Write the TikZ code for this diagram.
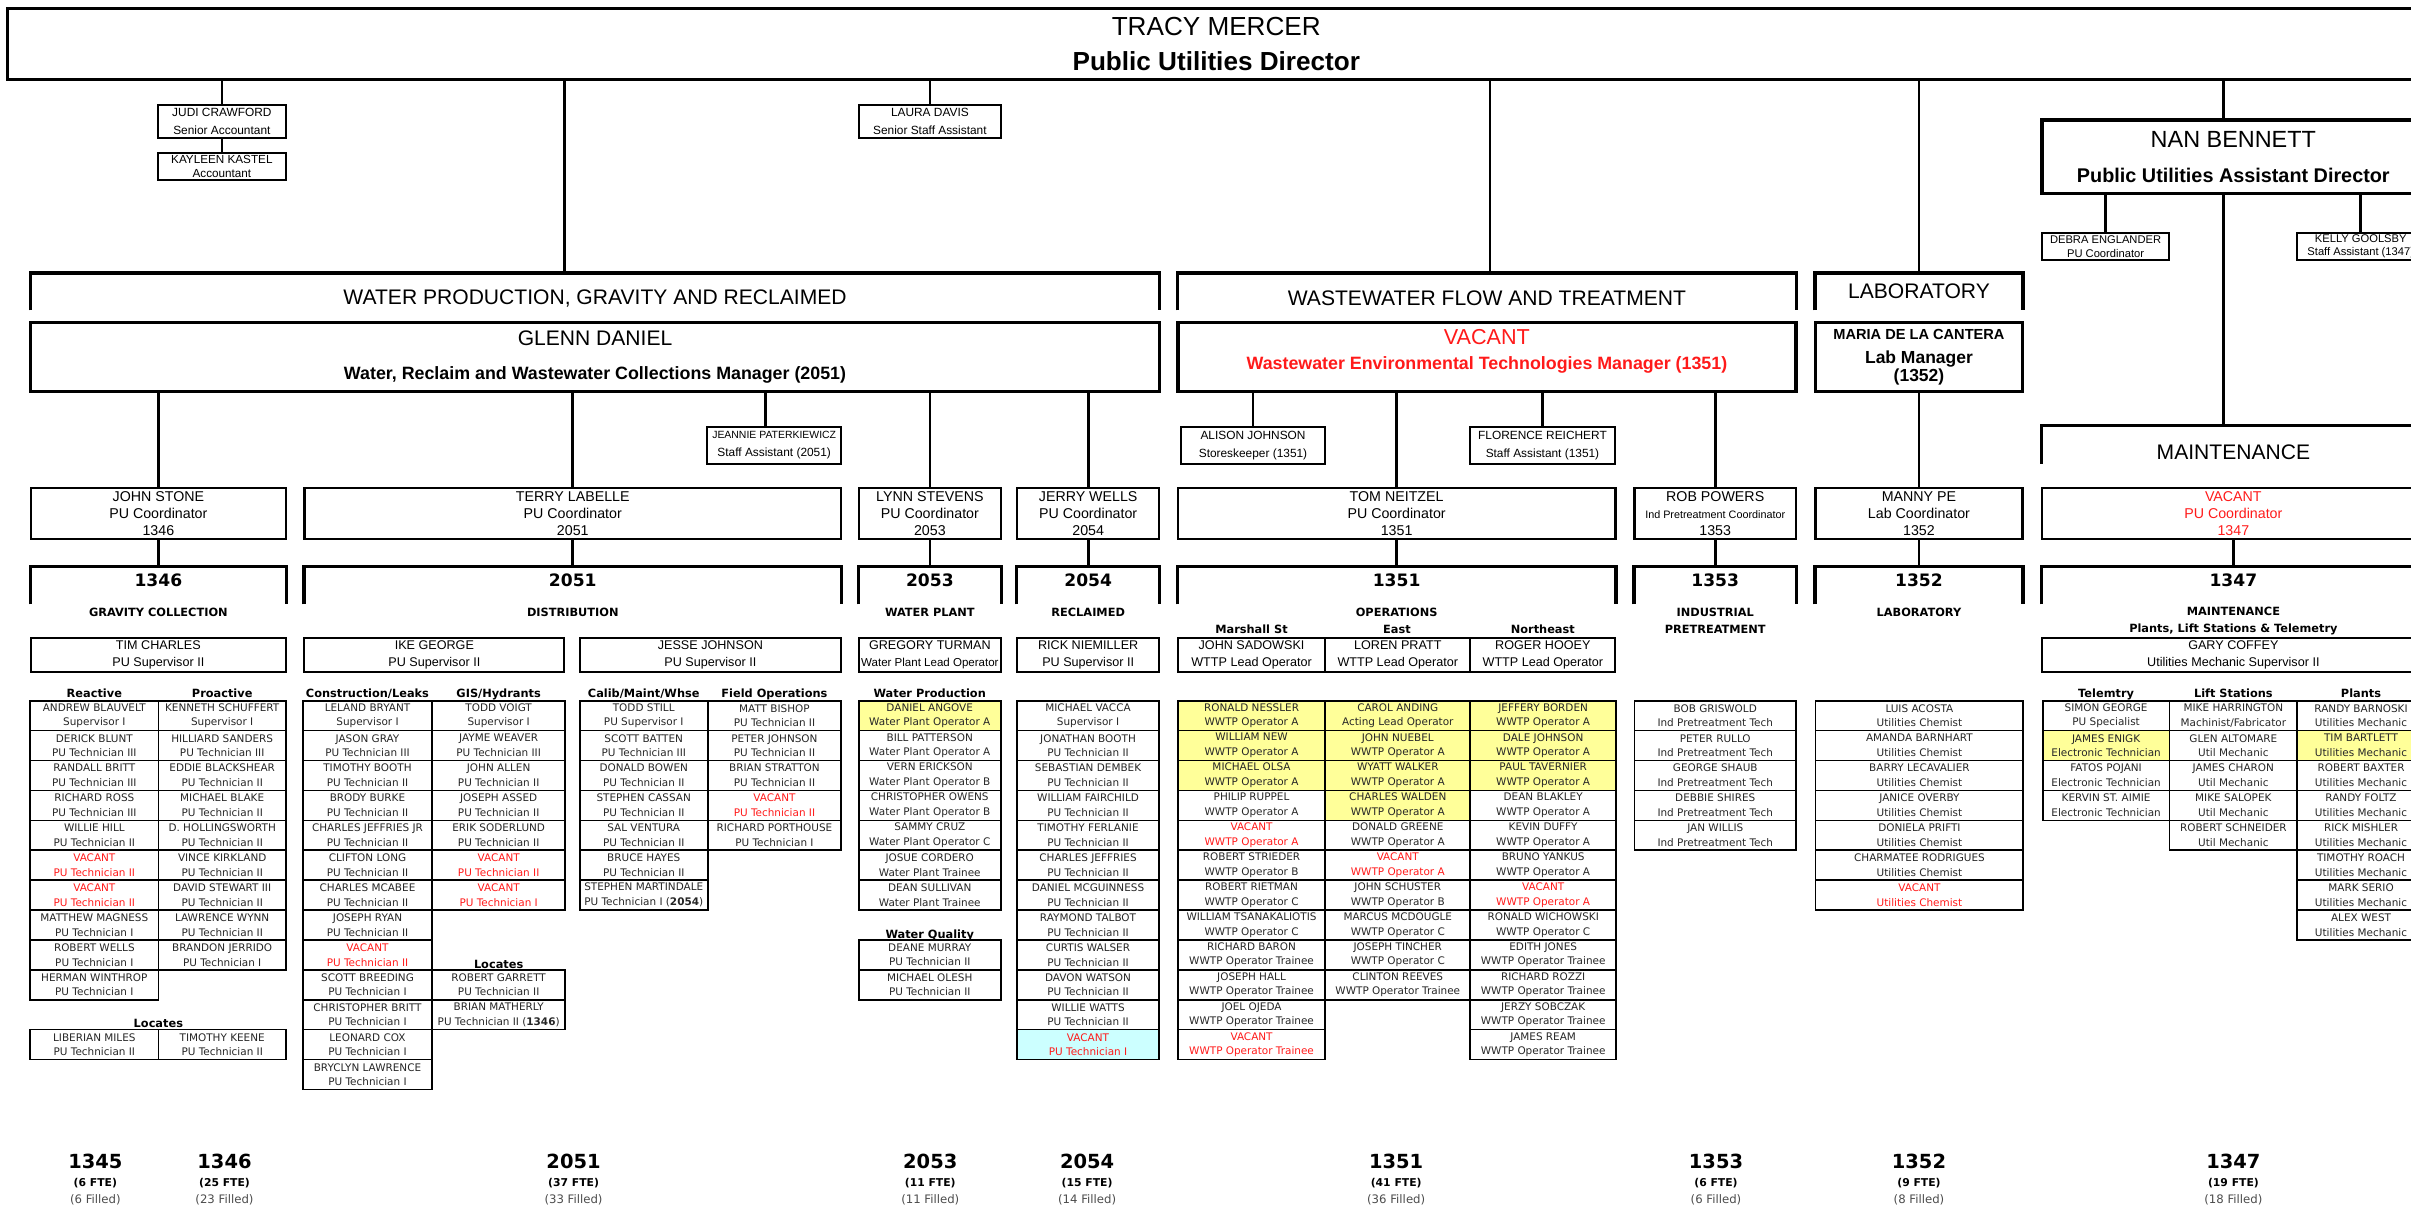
\documentclass[tikz,border=0pt]{standalone}
\usepackage{fontspec}
\setmainfont{Liberation Sans}
\newfontfamily\tahoma{DejaVu Sans}

\definecolor{vacred}{HTML}{FF1A1A}
\definecolor{hlyellow}{HTML}{FFFF99}
\definecolor{hlcyan}{HTML}{CCFFFF}

\tikzset{
  spot/.style args={#1/#2/#3/#4}{at={({(#1+#3)/2},{(#2+#4)/2})}, minimum width={(#3-#1)*0.3mm}, minimum height={(#4-#2)*0.3mm}},
  conn/.style={line width=1.5pt},
  brk/.style={line width=1.9pt},
  bigbox/.style={draw, line width=1.9pt, inner sep=0pt, align=center},
  smallbox/.style={draw, line width=1.1pt, inner sep=0pt, align=center, font=\fontsize{6.6}{9.8}\selectfont},
  coordbox/.style={draw, line width=1.2pt, inner sep=0pt, align=center, font=\fontsize{7.9}{9.4}\selectfont},
  supbox/.style={draw, line width=1.1pt, inner sep=0pt, align=center, font=\fontsize{7}{9.5}\selectfont},
  divtext/.style={font=\fontsize{11.7}{14}\selectfont, inner sep=0pt},
  secnum/.style={font=\tahoma\bfseries\fontsize{9.5}{11}\selectfont, inner sep=0pt},
  secname/.style={font=\tahoma\bfseries\fontsize{6.3}{9.2}\selectfont, inner sep=0pt, align=center},
  collabel/.style={font=\tahoma\bfseries\fontsize{6.3}{7}\selectfont, inner sep=0pt, anchor=base},
  cell/.style={draw, line width=0.9pt, inner sep=0pt, align=center, text=black!85, font=\tahoma\fontsize{5.8}{8.1}\selectfont},
  ok/.style={},
  vac/.style={text=vacred},
  hl/.style={fill=hlyellow},
  hlvac/.style={fill=hlcyan, text=vacred},
  totnum/.style={font=\tahoma\bfseries\fontsize{10.8}{12}\selectfont, inner sep=0pt},
  totfte/.style={font=\tahoma\bfseries\fontsize{6}{7}\selectfont, inner sep=0pt},
  totfil/.style={font=\tahoma\fontsize{6.5}{7.5}\selectfont, text=black!70, inner sep=0pt},
}

\newcommand{\staffcol}[5]{%
  \foreach \nm/\ti/\st [count=\r from #4] in {#5}{%
    \node[cell, \st, minimum width=#3*0.3mm, minimum height=19.45*0.3mm] (#1\r) at ({#2+#3/2},{465.425+19.45*\r}) {\nm\\\ti};
  }%
}

\begin{document}
\begin{tikzpicture}[x=0.3mm, y=-0.3mm]
\useasboundingbox (0,0) rectangle (1568,785);
\clip (0,0) rectangle (1568,785);

\node[bigbox, font=\fontsize{14.5}{19.4}\selectfont, spot=5/5.6/1577/51.7] (dir) {TRACY MERCER\\\textbf{Public Utilities Director}};

\node[smallbox, spot=102.9/68.3/185.7/90] (jc) {JUDI CRAWFORD\\Senior Accountant};
\node[smallbox, font=\fontsize{6.5}{8.1}\selectfont, spot=102.9/99.3/185.7/117] (kk) {KAYLEEN KASTEL\\Accountant};
\node[smallbox, spot=558.5/68.3/651/90] (ld) {LAURA DAVIS\\Senior Staff Assistant};

\node[bigbox, font=\fontsize{13}{19.4}\selectfont, spot=1327.9/78/1577/125.7] (nb) {NAN BENNETT\\{\fontsize{11}{19.4}\selectfont\bfseries Public Utilities Assistant Director}};
\node[smallbox, font=\fontsize{6.2}{7.4}\selectfont, spot=1327.9/151.7/1410.8/169] (de) {DEBRA ENGLANDER\\PU Coordinator};
\node[smallbox, font=\fontsize{6.2}{7.4}\selectfont, spot=1493.6/151.7/1577/169] (kg) {KELLY GOOLSBY\\Staff Assistant (1347)};

\node[inner sep=0pt, spot=20/177.8/754/201.6] (wpg) {};
\node[inner sep=0pt, spot=766/177.8/1168/201.6] (wwf) {};
\node[inner sep=0pt, spot=1180.7/177.8/1315.3/201.6] (labh) {};
\node[inner sep=0pt, spot=1327.9/277/1577/301.3] (mnt) {};
\foreach \h in {wpg, wwf, labh, mnt}
  \draw[brk] (\h.south west) |- (\h.north east) -- (\h.south east);
\node[divtext] (wpgt) at (387,194) {WATER PRODUCTION, GRAVITY AND RECLAIMED};
\node[divtext] (wwft) at (967,194) {WASTEWATER FLOW AND TREATMENT};
\node[divtext] (labt) at (1248,189.7) {LABORATORY};
\node[divtext] (mntt) at (1452.5,294.2) {MAINTENANCE};

\node[bigbox, font=\fontsize{11.7}{18.5}\selectfont, spot=20/209.9/754/254.7] (gd) {GLENN DANIEL\\{\fontsize{9.9}{18.5}\selectfont\bfseries Water, Reclaim and Wastewater Collections Manager (2051)}};
\node[bigbox, text=vacred, font=\fontsize{12}{13.8}\selectfont, spot=766/209.9/1168/254.7] (wm) {VACANT\\{\fontsize{9.9}{13.8}\selectfont\bfseries Wastewater Environmental Technologies Manager (1351)}\\[-5pt]\mbox{}};
\node[bigbox, font=\fontsize{9.7}{10.1}\selectfont\bfseries, spot=1180.7/209.9/1315.3/254.7] (mc) {{\fontsize{8.1}{10.1}\selectfont MARIA DE LA CANTERA}\\[3.3pt]Lab Manager\\(1352)};

\node[smallbox, spot=460/277.5/547/301.8] (jp) {{\fontsize{5.8}{9.8}\selectfont JEANNIE PATERKIEWICZ}\\Staff Assistant (2051)};
\node[smallbox, spot=768/277.5/861.8/301.8] (aj) {ALISON JOHNSON\\Storeskeeper (1351)};
\node[smallbox, spot=955.7/277.5/1050.6/301.8] (fr) {FLORENCE REICHERT\\Staff Assistant (1351)};

\node[coordbox, spot=20/317.2/186/350.8] (js) {JOHN STONE\\PU Coordinator\\1346};
\node[coordbox, spot=198/317.2/547/350.8] (tl) {TERRY LABELLE\\PU Coordinator\\2051};
\node[coordbox, spot=558.5/317.2/651/350.8] (ls) {LYNN STEVENS\\PU Coordinator\\2053};
\node[coordbox, spot=661.4/317.2/754/350.8] (jw) {JERRY WELLS\\PU Coordinator\\2054};
\node[coordbox, spot=766/317.2/1050.6/350.8] (tn) {TOM NEITZEL\\PU Coordinator\\1351};
\node[coordbox, spot=1063/317.2/1168/350.8] (rp) {ROB POWERS\\{\fontsize{6}{9.4}\selectfont Ind Pretreatment Coordinator}\\1353};
\node[coordbox, spot=1180.7/317.2/1315.3/350.8] (mp) {MANNY PE\\Lab Coordinator\\1352};
\node[coordbox, text=vacred, spot=1327.9/317.2/1577/350.8] (vc) {VACANT\\PU Coordinator\\1347};

\draw[conn] (jc.north |- dir.south) -- (jc.north);
\draw[conn] (jc.south) -- (kk.north);
\draw[conn] (367,0 |- dir.south) -- (367,0 |- wpg.north);
\draw[conn] (ld.north |- dir.south) -- (ld.north);
\draw[conn] (969,0 |- dir.south) -- (969,0 |- wwf.north);
\draw[conn] (labh.north |- dir.south) -- (labh.north);
\draw[conn] (1446,0 |- dir.south) -- (1446,0 |- nb.north);
\draw[conn] (de.north |- nb.south) -- (de.north);
\draw[conn] (1446,0 |- nb.south) -- (1446,0 |- mnt.north);
\draw[conn] (kg.north |- nb.south) -- (kg.north);
\draw[conn] (js.north |- gd.south) -- (js.north);
\draw[conn] (tl.north |- gd.south) -- (tl.north);
\draw[conn] (498,0 |- gd.south) -- (498,0 |- jp.north);
\draw[conn] (ls.north |- gd.south) -- (ls.north);
\draw[conn] (jw.north |- gd.south) -- (jw.north);
\draw[conn] (aj.north |- wm.south) -- (aj.north);
\draw[conn] (tn.north |- wm.south) -- (tn.north);
\draw[conn] (fr.north |- wm.south) -- (fr.north);
\draw[conn] (rp.north |- wm.south) -- (rp.north);
\draw[conn] (mp.north |- mc.south) -- (mp.north);

\foreach \nm/\xa/\xb in {1346/20/186, 2051/198/547, 2053/558.5/651, 2054/661.4/754, 1351/766/1050.6, 1353/1063/1168, 1352/1180.7/1315.3, 1347/1327.9/1577}{
  \node[inner sep=0pt, spot=\xa/368.5/\xb/392.8] (sec\nm) {};
  \draw[brk] (sec\nm.south west) |- (sec\nm.north east) -- (sec\nm.south east);
  \node[secnum] (num\nm) at ({(\xa+\xb)/2},377.2) {\nm};
}
\foreach \a/\b in {js/1346, tl/2051, ls/2053, jw/2054, tn/1351, rp/1353, mp/1352, vc/1347}
  \draw[conn] (\a.south) -- (\a.south |- sec\b.north);

\node[secname] (nm1346) at (103,398.2) {GRAVITY COLLECTION};
\node[secname] (nm2051) at (372.5,398.2) {DISTRIBUTION};
\node[secname] (nm2053) at (604.75,398.2) {WATER PLANT};
\node[secname] (nm2054) at (707.7,398.2) {RECLAIMED};
\node[secname] (nm1351) at (908.3,398.2) {OPERATIONS};
\node[secname] (mst) at (813.9,409.3) {Marshall St};
\node[secname] (est) at (908.5,409.3) {East};
\node[secname] (nst) at (1003.4,409.3) {Northeast};
\node[secname] (nm1353) at (1115.5,403.8) {INDUSTRIAL\\PRETREATMENT};
\node[secname] (nm1352) at (1248,398.2) {LABORATORY};
\node[secname] (nm1347) at (1452.5,403.8) {MAINTENANCE\\Plants, Lift Stations \& Telemetry};

\node[supbox, spot=20/414.7/186/437.3] (tc) {TIM CHARLES\\PU Supervisor II};
\node[supbox, spot=198/414.7/367/437.3] (ig) {IKE GEORGE\\PU Supervisor II};
\node[supbox, spot=377/414.7/547/437.3] (jj) {JESSE JOHNSON\\PU Supervisor II};
\node[supbox, spot=558.5/414.7/651/437.3] (gt) {GREGORY TURMAN\\{\fontsize{6.4}{9.5}\selectfont Water Plant Lead Operator}};
\node[supbox, spot=661.4/414.7/754/437.3] (rn) {RICK NIEMILLER\\PU Supervisor II};
\node[supbox, spot=766/414.7/861.9/437.3] (jsd) {JOHN SADOWSKI\\WTTP Lead Operator};
\node[supbox, spot=861.9/414.7/956.2/437.3] (lp) {LOREN PRATT\\WTTP Lead Operator};
\node[supbox, spot=956.2/414.7/1050.6/437.3] (rh) {ROGER HOOEY\\WTTP Lead Operator};
\node[supbox, spot=1327.9/414.7/1577/437.3] (gc) {GARY COFFEY\\Utilities Mechanic Supervisor II};

\node[collabel] (lreact) at (61.35,453.8) {Reactive};
\node[collabel] (lproact) at (144.5,453.8) {Proactive};
\node[collabel] (lcons) at (239,453.8) {Construction/Leaks};
\node[collabel] (lgis) at (324.3,453.8) {GIS/Hydrants};
\node[collabel] (lcal) at (418.65,453.8) {Calib/Maint/Whse};
\node[collabel] (lfield) at (503.65,453.8) {Field Operations};
\node[collabel] (lwprod) at (604.65,453.8) {Water Production};
\node[collabel] (ltel) at (1369.7,453.8) {Telemtry};
\node[collabel] (llift) at (1452.45,453.8) {Lift Stations};
\node[collabel] (lplant) at (1535.5,453.8) {Plants};
\node[collabel] (lloc) at (103,668.4) {Locates};
\node[collabel] (lloc2) at (324.3,629.6) {Locates};
\node[collabel] (lwq) at (604.65,610.2) {Water Quality};

\staffcol{gr}{19.7}{83.3}{0}{ANDREW BLAUVELT/Supervisor I/ok,
  DERICK BLUNT/PU Technician III/ok,
  RANDALL BRITT/PU Technician III/ok,
  RICHARD ROSS/PU Technician III/ok,
  WILLIE HILL/PU Technician II/ok,
  VACANT/PU Technician II/vac,
  VACANT/PU Technician II/vac,
  MATTHEW MAGNESS/PU Technician I/ok,
  ROBERT WELLS/PU Technician I/ok,
  HERMAN WINTHROP/PU Technician I/ok}
\staffcol{gp}{103}{83}{0}{KENNETH SCHUFFERT/Supervisor I/ok,
  HILLIARD SANDERS/PU Technician III/ok,
  EDDIE BLACKSHEAR/PU Technician II/ok,
  MICHAEL BLAKE/PU Technician II/ok,
  D. HOLLINGSWORTH/PU Technician II/ok,
  VINCE KIRKLAND/PU Technician II/ok,
  DAVID STEWART III/PU Technician II/ok,
  LAWRENCE WYNN/PU Technician II/ok,
  BRANDON JERRIDO/PU Technician I/ok}
\staffcol{gla}{19.7}{83.3}{11}{LIBERIAN MILES/PU Technician II/ok}
\staffcol{glb}{103}{83}{11}{TIMOTHY KEENE/PU Technician II/ok}

\staffcol{dc}{197}{84}{0}{LELAND BRYANT/Supervisor I/ok,
  JASON GRAY/PU Technician III/ok,
  TIMOTHY BOOTH/PU Technician II/ok,
  BRODY BURKE/PU Technician II/ok,
  CHARLES JEFFRIES JR/PU Technician II/ok,
  CLIFTON LONG/PU Technician II/ok,
  CHARLES MCABEE/PU Technician II/ok,
  JOSEPH RYAN/PU Technician II/ok,
  VACANT/PU Technician II/vac,
  SCOTT BREEDING/PU Technician I/ok,
  CHRISTOPHER BRITT/PU Technician I/ok,
  LEONARD COX/PU Technician I/ok,
  BRYCLYN LAWRENCE/PU Technician I/ok}
\staffcol{dg}{281}{86.6}{0}{TODD VOIGT/Supervisor I/ok,
  JAYME WEAVER/PU Technician III/ok,
  JOHN ALLEN/PU Technician II/ok,
  JOSEPH ASSED/PU Technician II/ok,
  ERIK SODERLUND/PU Technician II/ok,
  VACANT/PU Technician II/vac,
  VACANT/PU Technician I/vac}
\staffcol{dl}{281}{86.6}{9}{ROBERT GARRETT/PU Technician II/ok,
  BRIAN MATHERLY/PU Technician II (\textbf{1346})/ok}
\staffcol{dm}{377}{83.3}{0}{TODD STILL/PU Supervisor I/ok,
  SCOTT BATTEN/PU Technician III/ok,
  DONALD BOWEN/PU Technician II/ok,
  STEPHEN CASSAN/PU Technician II/ok,
  SAL VENTURA/PU Technician II/ok,
  BRUCE HAYES/PU Technician II/ok,
  STEPHEN MARTINDALE/PU Technician I (\textbf{2054})/ok}
\staffcol{df}{460.3}{86.7}{0}{MATT BISHOP/PU Technician II/ok,
  PETER JOHNSON/PU Technician II/ok,
  BRIAN STRATTON/PU Technician II/ok,
  VACANT/PU Technician II/vac,
  RICHARD PORTHOUSE/PU Technician I/ok}

\staffcol{wp}{558.5}{92.3}{0}{DANIEL ANGOVE/Water Plant Operator A/hl,
  BILL PATTERSON/Water Plant Operator A/ok,
  VERN ERICKSON/Water Plant Operator B/ok,
  CHRISTOPHER OWENS/Water Plant Operator B/ok,
  SAMMY CRUZ/Water Plant Operator C/ok,
  JOSUE CORDERO/Water Plant Trainee/ok,
  DEAN SULLIVAN/Water Plant Trainee/ok}
\staffcol{wq}{558.5}{92.3}{8}{DEANE MURRAY/PU Technician II/ok,
  MICHAEL OLESH/PU Technician II/ok}

\staffcol{rc}{661.4}{92.4}{0}{MICHAEL VACCA/Supervisor I/ok,
  JONATHAN BOOTH/PU Technician II/ok,
  SEBASTIAN DEMBEK/PU Technician II/ok,
  WILLIAM FAIRCHILD/PU Technician II/ok,
  TIMOTHY FERLANIE/PU Technician II/ok,
  CHARLES JEFFRIES/PU Technician II/ok,
  DANIEL MCGUINNESS/PU Technician II/ok,
  RAYMOND TALBOT/PU Technician II/ok,
  CURTIS WALSER/PU Technician II/ok,
  DAVON WATSON/PU Technician II/ok,
  WILLIE WATTS/PU Technician II/ok,
  VACANT/PU Technician I/hlvac}

\staffcol{om}{766}{95.9}{0}{RONALD NESSLER/WWTP Operator A/hl,
  WILLIAM NEW/WWTP Operator A/hl,
  MICHAEL OLSA/WWTP Operator A/hl,
  PHILIP RUPPEL/WWTP Operator A/ok,
  VACANT/WWTP Operator A/vac,
  ROBERT STRIEDER/WWTP Operator B/ok,
  ROBERT RIETMAN/WWTP Operator C/ok,
  WILLIAM TSANAKALIOTIS/WWTP Operator C/ok,
  RICHARD BARON/WWTP Operator Trainee/ok,
  JOSEPH HALL/WWTP Operator Trainee/ok,
  JOEL OJEDA/WWTP Operator Trainee/ok,
  VACANT/WWTP Operator Trainee/vac}
\staffcol{oe}{861.9}{94.3}{0}{CAROL ANDING/Acting Lead Operator/hl,
  JOHN NUEBEL/WWTP Operator A/hl,
  WYATT WALKER/WWTP Operator A/hl,
  CHARLES WALDEN/WWTP Operator A/hl,
  DONALD GREENE/WWTP Operator A/ok,
  VACANT/WWTP Operator A/vac,
  JOHN SCHUSTER/WWTP Operator B/ok,
  MARCUS MCDOUGLE/WWTP Operator C/ok,
  JOSEPH TINCHER/WWTP Operator C/ok,
  CLINTON REEVES/WWTP Operator Trainee/ok}
\staffcol{on}{956.2}{94.8}{0}{JEFFERY BORDEN/WWTP Operator A/hl,
  DALE JOHNSON/WWTP Operator A/hl,
  PAUL TAVERNIER/WWTP Operator A/hl,
  DEAN BLAKLEY/WWTP Operator A/ok,
  KEVIN DUFFY/WWTP Operator A/ok,
  BRUNO YANKUS/WWTP Operator A/ok,
  VACANT/WWTP Operator A/vac,
  RONALD WICHOWSKI/WWTP Operator C/ok,
  EDITH JONES/WWTP Operator Trainee/ok,
  RICHARD ROZZI/WWTP Operator Trainee/ok,
  JERZY SOBCZAK/WWTP Operator Trainee/ok,
  JAMES REAM/WWTP Operator Trainee/ok}

\staffcol{ip}{1063}{105}{0}{BOB GRISWOLD/Ind Pretreatment Tech/ok,
  PETER RULLO/Ind Pretreatment Tech/ok,
  GEORGE SHAUB/Ind Pretreatment Tech/ok,
  DEBBIE SHIRES/Ind Pretreatment Tech/ok,
  JAN WILLIS/Ind Pretreatment Tech/ok}

\staffcol{lb}{1180.8}{135}{0}{LUIS ACOSTA/Utilities Chemist/ok,
  AMANDA BARNHART/Utilities Chemist/ok,
  BARRY LECAVALIER/Utilities Chemist/ok,
  JANICE OVERBY/Utilities Chemist/ok,
  DONIELA PRIFTI/Utilities Chemist/ok,
  CHARMATEE RODRIGUES/Utilities Chemist/ok,
  VACANT/Utilities Chemist/vac}

\staffcol{mt}{1328.5}{82.4}{0}{SIMON GEORGE/PU Specialist/ok,
  JAMES ENIGK/Electronic Technician/hl,
  FATOS POJANI/Electronic Technician/ok,
  KERVIN ST. AIMIE/Electronic Technician/ok}
\staffcol{ml}{1410.9}{83.1}{0}{MIKE HARRINGTON/Machinist\slash Fabricator/ok,
  GLEN ALTOMARE/Util Mechanic/ok,
  JAMES CHARON/Util Mechanic/ok,
  MIKE SALOPEK/Util Mechanic/ok,
  ROBERT SCHNEIDER/Util Mechanic/ok}
\staffcol{mq}{1494}{83}{0}{RANDY BARNOSKI/Utilities Mechanic/ok,
  TIM BARTLETT/Utilities Mechanic/hl,
  ROBERT BAXTER/Utilities Mechanic/ok,
  RANDY FOLTZ/Utilities Mechanic/ok,
  RICK MISHLER/Utilities Mechanic/ok,
  TIMOTHY ROACH/Utilities Mechanic/ok,
  MARK SERIO/Utilities Mechanic/ok,
  ALEX WEST/Utilities Mechanic/ok}

\foreach \x/\num/\fte/\fil [count=\i] in {62/1345/6/6, 146/1346/25/23, 373/2051/37/33, 605/2053/11/11, 707/2054/15/14, 908/1351/41/36, 1116/1353/6/6, 1248/1352/9/8, 1452.5/1347/19/18}{
  \node[totnum] (tot\i) at (\x,755.5) {\num};
  \node[totfte] (fte\i) at (\x,769.6) {(\fte\ FTE)};
  \node[totfil] (fil\i) at (\x,780.4) {(\fil\ Filled)};
}
\end{tikzpicture}
\end{document}
